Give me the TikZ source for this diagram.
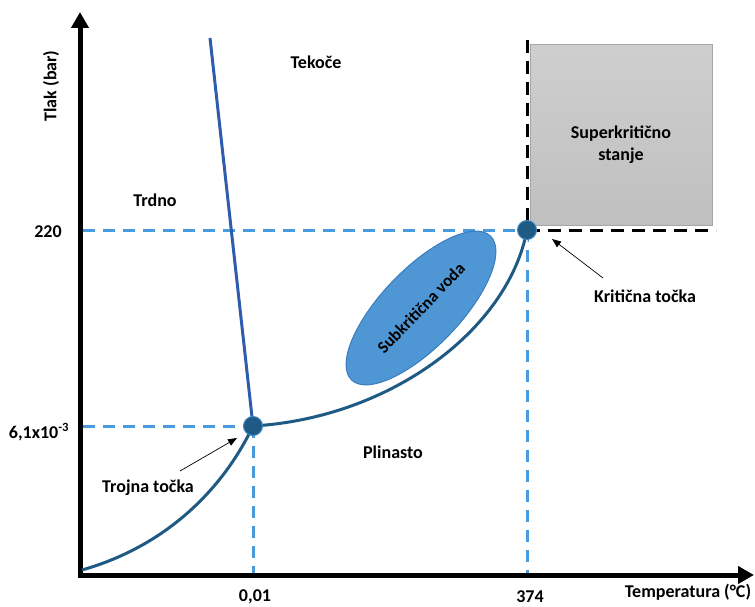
\documentclass[tikz,border=0pt]{standalone}
\usepackage{fontspec}
\setmainfont{Carlito}
\usetikzlibrary{arrows.meta,shapes.geometric}
\definecolor{dashblue}{HTML}{4A9BDD}
\definecolor{curveblue}{HTML}{1F5A85}
\definecolor{meltblue}{HTML}{2F5DAE}
\definecolor{ptfill}{HTML}{1F5A85}
\definecolor{ptedge}{HTML}{3F86C0}
\definecolor{ellfill}{HTML}{4F97D4}
\definecolor{elledge}{HTML}{3B7BBE}
\begin{document}
\begin{tikzpicture}[x=1pt,y=-1pt,
  lbl/.style={font=\fontsize{18}{21}\selectfont\bfseries, inner sep=1pt},
  axis/.style={line width=5pt,-{Triangle[length=16pt,width=17pt]}},
  bluedash/.style={dashblue,line width=3pt,dash pattern=on 12pt off 8pt},
  blackdash/.style={black,line width=3pt,dash pattern=on 13pt off 8pt},
  phasecurve/.style={curveblue,line width=3pt},
  pt/.style={circle,fill=ptfill,draw=ptedge,line width=1pt,minimum size=19pt,inner sep=0pt},
  thinarrow/.style={black,line width=0.7pt,-{Triangle[length=9pt,width=7pt]}}]
\useasboundingbox (0,0) rectangle (755,607);
% coordinates
\coordinate (O) at (80,575);
\coordinate (ytip) at (80,12);
\coordinate (xtip) at (754,575);
\coordinate (tp) at (253,426);
\coordinate (cp) at (527,230);
\coordinate (tpy) at (83,426);
\coordinate (tpx) at (253,573);
\coordinate (cpy) at (83,230);
\coordinate (cpx) at (527,573);
\coordinate (cptop) at (527,40);
\coordinate (cpright) at (716,230);
\coordinate (meltend) at (210,38);
\coordinate (subst) at (82,570);
% supercritical box
\node[draw=gray!70,line width=0.5pt,top color=gray!38,bottom color=gray!50,
  minimum width=182pt,minimum height=181pt,inner sep=0pt] (box) at (621,135) {};
\node[lbl,align=center,font=\fontsize{18}{22}\selectfont\bfseries] (sup) at (621,145) {Superkritično\\stanje};
% dashed guides
\draw[bluedash] (tpy) -- (tp);
\draw[bluedash] (tp) -- (tpx);
\draw[bluedash] (cpy) -- (cp);
\draw[bluedash] (cp) -- (cpx);
\draw[blackdash] (cptop) -- (cp);
\draw[blackdash] (cp) -- (cpright);
% axes
\draw[axis] ([yshift=2.5pt]O) -- (ytip);
\draw[axis] ([xshift=-2.5pt]O) -- (xtip);
% ellipse
\node[ellipse,fill=ellfill,draw=elledge,line width=1pt,minimum width=200pt,minimum height=78pt,
  rotate=46,inner sep=0pt] (ell) at (421,308) {};
\node[lbl,rotate=46,font=\fontsize{17}{20}\selectfont\bfseries] (ellt) at (ell.center) {Subkritična voda};
% curves
\draw[white,line width=6pt] (tp) .. controls (390,418) and (508,330) .. (cp);
\draw[phasecurve] (tp) .. controls (390,418) and (508,330) .. (cp);
\draw[phasecurve] (subst) .. controls (170,545) and (225,485) .. (tp);
\draw[meltblue,line width=3pt] (meltend) -- (tp);
% points
\node[pt] (tpn) at (tp) {};
\node[pt] (cpn) at (cp) {};
% labels
\node[lbl] (tlak) at (51,86) [rotate=90] {Tlak (bar)};
\node[lbl] (l220) at (48,232) {220};
\node[lbl] (l61) at (39,432) {6,1x10\textsuperscript{-3}};
\node[lbl] (l001) at (255,597) {0,01};
\node[lbl] (l374) at (530,597) {374};
\node[lbl] (temp) at (688,592) {Temperatura (°C)};
\node[lbl] (tek) at (316,62) {Tekoče};
\node[lbl] (trd) at (155,200) {Trdno};
\node[lbl] (plin) at (393,452) {Plinasto};
\node[lbl] (troj) at (148,488) {Trojna točka};
\node[lbl] (krit) at (645,296) {Kritična točka};
% pointer arrows
\coordinate (ta) at (180,471);
\coordinate (ka) at (603,278);
\draw[thinarrow] (ta) -- (237,438);
\draw[thinarrow] (ka) -- (552,239);
\end{tikzpicture}
\end{document}
